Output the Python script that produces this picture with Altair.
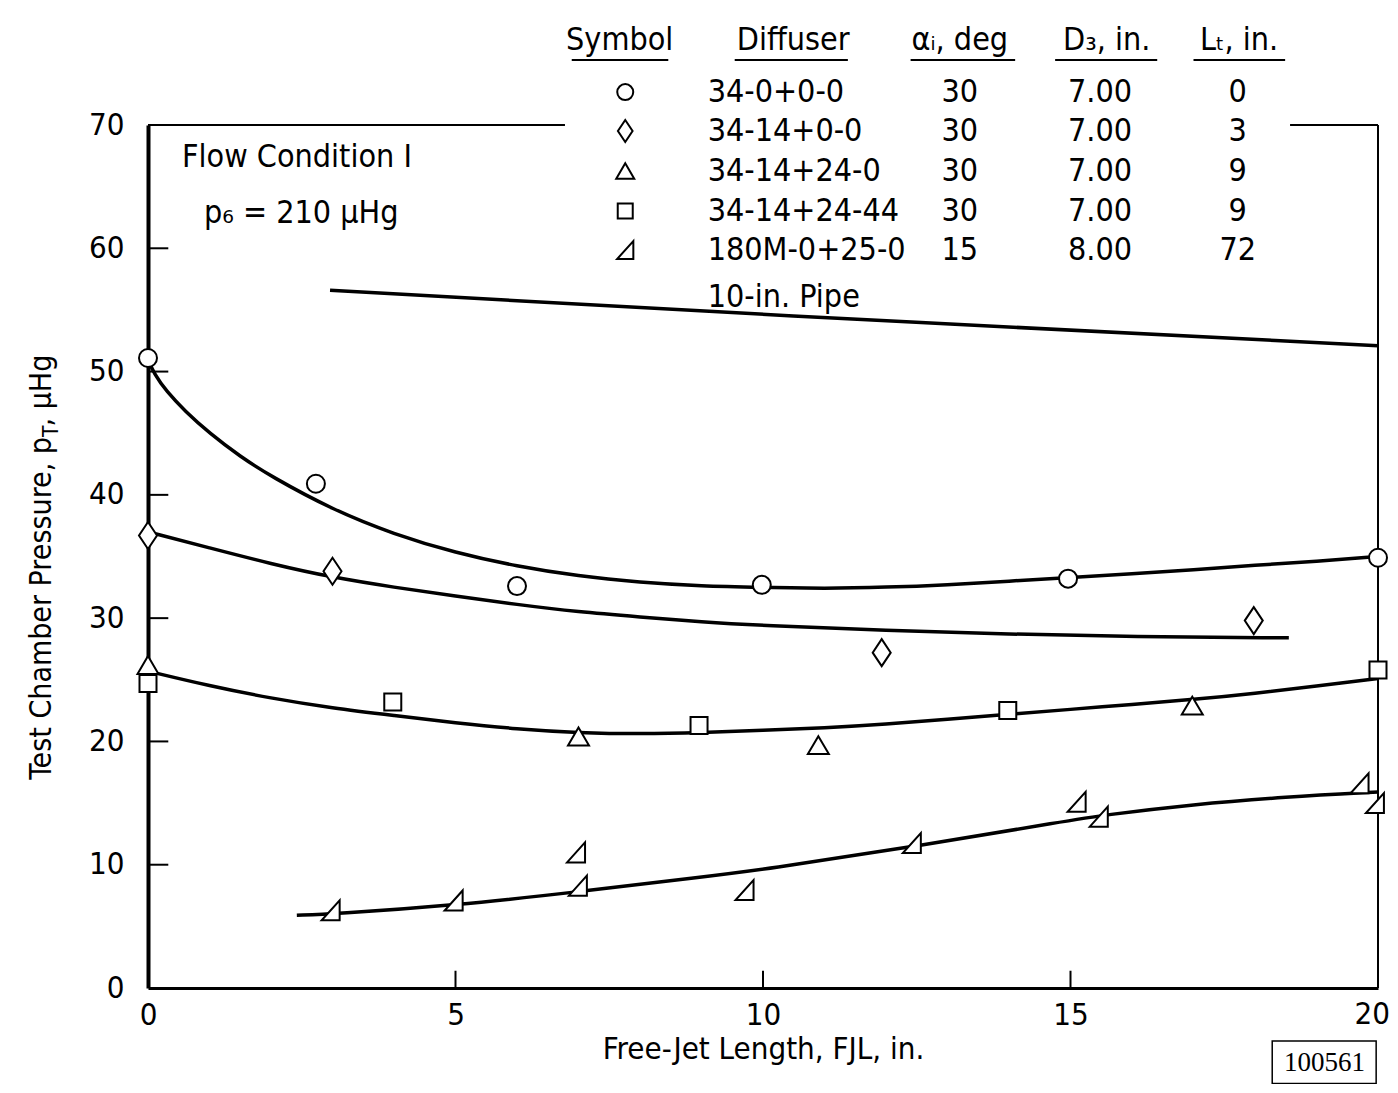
import altair as alt
import pandas as pd

# ---------------- data ----------------
# measured points (Free-jet length in., test chamber pressure uHg)
circle_x = [0.0, 2.73, 6.0, 9.98, 14.96, 20.0]
circle_y = [51.1, 40.9, 32.6, 32.7, 33.2, 34.9]
diamond_x = [0.0, 3.0, 11.93, 17.98]
diamond_y = [36.7, 33.8, 27.2, 29.8]
triangle_x = [0.0, 7.0, 10.9, 16.98]
triangle_y = [26.2, 20.4, 19.7, 22.9]
square_x = [0.0, 3.98, 8.96, 13.98, 20.0]
square_y = [24.7, 23.2, 21.3, 22.5, 25.8]
half_x = [2.97, 4.97, 6.96, 6.99, 9.7, 12.42, 15.1, 15.46, 19.7, 19.95]
half_y = [6.3, 7.1, 11.0, 8.3, 7.95, 11.76, 15.1, 13.9, 16.6, 15.0]

# faired curves
curve_circle_x = [0, 0.1, 0.3, 0.6, 1, 1.5, 2, 3, 4, 5, 6, 7, 8, 9, 10, 11, 12, 13, 14, 15, 16, 17, 18, 19, 20]
curve_circle_y = [51.0, 49.8, 48.4, 46.8, 45.0, 43.1, 41.5, 38.8, 36.8, 35.3, 34.2, 33.4, 32.9, 32.6, 32.5,
                  32.4, 32.5, 32.7, 33.0, 33.3, 33.6, 33.9, 34.3, 34.6, 35.0]
curve_diamond_x = [0, 1, 2, 3, 4, 5, 6, 7, 8, 9, 10, 12, 14, 16, 18.55]
curve_diamond_y = [37.0, 35.7, 34.4, 33.3, 32.5, 31.8, 31.1, 30.5, 30.1, 29.7, 29.4, 29.0, 28.7, 28.5, 28.4]
curve_tri_x = [0, 1, 2, 3, 4, 5, 6, 7, 8, 9, 10, 11, 12, 13, 14, 15, 16, 17, 18, 19, 20]
curve_tri_y = [25.7, 24.5, 23.5, 22.7, 22.1, 21.5, 21.0, 20.7, 20.6, 20.7, 20.9, 21.1, 21.4, 21.8, 22.2,
               22.6, 23.0, 23.4, 23.9, 24.5, 25.1]
curve_half_x = [2.42, 3, 5, 7, 9, 10, 12.5, 15, 15.5, 17, 18.5, 20]
curve_half_y = [5.9, 6.0, 6.7, 7.8, 9.0, 9.6, 11.5, 13.6, 14.0, 14.9, 15.5, 15.9]
curve_pipe_x = [2.96, 10, 20]
curve_pipe_y = [56.6, 54.6, 52.1]

# legend table
legend_headers = ["Symbol", "Diffuser", "\u03b1\u1d62, deg", "D\u2083, in.", "L\u209c, in."]
legend_diffuser = ["34-0+0-0", "34-14+0-0", "34-14+24-0", "34-14+24-44", "180M-0+25-0"]
legend_alpha = ["30", "30", "30", "30", "15"]
legend_d3 = ["7.00", "7.00", "7.00", "7.00", "8.00"]
legend_lt = ["0", "3", "9", "9", "72"]
pipe_label = "10-in. Pipe"

x_ticks = [0, 5, 10, 15, 20]
y_ticks = [0, 10, 20, 30, 40, 50, 60, 70]

# ---------------- layout (in data units) ----------------
row_y = [72.67, 69.51, 66.27, 63.02, 59.86]
pipe_label_y = 56.05
header_y = 76.89
header_x = [7.67, 10.49, 13.2, 15.59, 17.74]
underline_x = [6.89, 9.54, 12.4, 14.75, 17.0]
underline_x2 = [8.46, 11.38, 14.1, 16.41, 18.49]
underline_y = 75.27
sym_x = 7.76
diff_x = 9.1
alpha_x = 13.2
d3_x = 15.48
lt_x = 17.72

FONT = "'Liberation Sans Narrow', 'DejaVu Sans Condensed', 'Arial Narrow', sans-serif"
FS = 32
LFS = 31

XS = alt.Scale(domain=[0, 20], nice=False, zero=False)
YS = alt.Scale(domain=[0, 70], nice=False, zero=False)

# last x label ("20") is drawn as a text mark so it is not cut at the page edge
XAXIS = alt.Axis(values=x_ticks[:-1], format="d", ticks=False, grid=False, domainColor="black",
                 domainWidth=3, labelFont=FONT, labelFontSize=LFS, labelColor="black",
                 labelPadding=12, labelFlush=False, titleFont=FONT, titleFontSize=LFS,
                 titleFontWeight="normal", titleColor="black", titlePadding=4)
YAXIS = alt.Axis(values=y_ticks, format="d", ticks=False, grid=False, domainColor="black",
                 domainWidth=4, labelFont=FONT, labelFontSize=LFS, labelColor="black",
                 labelPadding=24, labelFlush=False)


def X(field="x"):
    return alt.X(f"{field}:Q", scale=XS, axis=XAXIS, title="Free-Jet Length, FJL, in.")


def Y(field="y"):
    return alt.Y(f"{field}:Q", scale=YS, axis=YAXIS, title="")


def points(xs, ys, shape, size, sw=2.0):
    df = pd.DataFrame({"x": xs, "y": ys})
    return alt.Chart(df).mark_point(shape=shape, size=size, filled=True, fill="white",
                                    stroke="black", strokeWidth=sw, opacity=1).encode(x=X(), y=Y())


def texts(xs, ys, labels, size=FS, align="center", font=FONT, angle=0, baseline="middle", dx=0, dy=0):
    df = pd.DataFrame({"x": xs, "y": ys, "t": labels})
    kw = dict(font=font, fontSize=size, align=align, baseline=baseline, color="black")
    if angle:
        kw["angle"] = angle
    if dx:
        kw["dx"] = dx
    if dy:
        kw["dy"] = dy
    return alt.Chart(df).mark_text(**kw).encode(x=X(), y=Y(), text="t:N")


def rules(xs, x2s, ys, y2s, sw=2.0):
    df = pd.DataFrame({"x": xs, "x2": x2s, "y": ys, "y2": y2s})
    return alt.Chart(df).mark_rule(color="black", strokeWidth=sw).encode(
        x=X(), x2="x2:Q", y=Y(), y2="y2:Q")


SHAPE_DIAMOND = "M0,-1L0.667,0L0,1L-0.667,0Z"
SHAPE_TRI = "M0,-0.85L1,0.85L-1,0.85Z"
SHAPE_HALF = "M0.9,-1L0.9,1L-0.9,1Z"

# curves
curves = []
for name, cx, cy in [("circle", curve_circle_x, curve_circle_y),
                     ("diamond", curve_diamond_x, curve_diamond_y),
                     ("tri", curve_tri_x, curve_tri_y),
                     ("half", curve_half_x, curve_half_y),
                     ("pipe", curve_pipe_x, curve_pipe_y)]:
    for a, b in zip(cx, cy):
        curves.append({"curve": name, "x": a, "y": b})
curve_df = pd.DataFrame(curves)
lines = alt.Chart(curve_df).mark_line(interpolate="basis", color="black", strokeWidth=3.5).encode(
    x=X(), y=Y(), detail="curve:N")

# frame pieces
frame = rules([20, 0, 18.57], [20, 6.78, 20], [0, 70, 70], [70, 70, 70], sw=2.0)
ytk = rules([0] * 6, [0.33] * 6, y_ticks[1:-1], y_ticks[1:-1], sw=2.0)
xtk = rules(x_ticks[1:-1], x_ticks[1:-1], [0] * 3, [1.4] * 3, sw=2.0)
last_xlabel = texts([x_ticks[-1]], [0], [str(x_ticks[-1])], size=LFS, align="right",
                    baseline="top", dx=12, dy=12)

# data markers
marks = [
    points(circle_x, circle_y, "circle", 324),
    points(diamond_x, diamond_y, SHAPE_DIAMOND, 729),
    points(triangle_x, triangle_y, SHAPE_TRI, 441),
    points(square_x, square_y, "square", 289),
    points(half_x, half_y, SHAPE_HALF, 400),
]

# legend
leg_syms = [
    points([sym_x], [row_y[0]], "circle", 256),
    points([sym_x], [row_y[1]], SHAPE_DIAMOND, 484),
    points([sym_x], [row_y[2]], SHAPE_TRI, 324),
    points([sym_x], [row_y[3]], "square", 225),
    points([sym_x], [row_y[4]], SHAPE_HALF, 324),
]
leg_text = [
    texts(header_x, [header_y] * 5, legend_headers),
    rules(underline_x, underline_x2, [underline_y] * 5, [underline_y] * 5, sw=2.0),
    texts([diff_x] * 5, row_y, legend_diffuser, align="left"),
    texts([diff_x], [pipe_label_y], [pipe_label], align="left"),
    texts([alpha_x] * 5, row_y, legend_alpha),
    texts([d3_x] * 5, row_y, legend_d3),
    texts([lt_x] * 5, row_y, legend_lt),
]

# annotations
flow = [
    texts([0.553], [67.4], ["Flow Condition I"], align="left"),
    texts([0.91], [62.86], ["p\u2086 = 210 \u03bcHg"], align="left"),
]

# y-axis title with subscript, built from pieces
ytitle = [
    texts([-1.58], [44.69], ["Test Chamber Pressure, p"], size=30, align="right", angle=270,
          baseline="alphabetic"),
    texts([-1.46], [44.69], ["T"], size=21, align="left", angle=270, baseline="alphabetic"),
    texts([-1.58], [45.55], [", \u03bcHg"], size=30, align="left", angle=270, baseline="alphabetic"),
]

# number box
box_df = pd.DataFrame({"x": [18.28], "x2": [19.97], "y": [-4.3], "y2": [-7.75]})
box = alt.Chart(box_df).mark_rect(fill="white", stroke="black", strokeWidth=1.5).encode(
    x=X(), x2="x2:Q", y=Y(), y2="y2:Q")
box_text = texts([19.13], [-6.1], ["100561"], size=27, font="'Liberation Serif', 'DejaVu Serif', serif")

chart = alt.layer(
    lines, frame, ytk, xtk, last_xlabel, *marks, *leg_syms, *leg_text, *flow, *ytitle, box, box_text
).properties(
    width=1230, height=863,
    autosize=alt.AutoSizeParams(type="none"),
    padding={"left": 140, "top": 117, "right": 12, "bottom": 96},
    background="white",
).configure_view(strokeWidth=0)

chart.save("out.html", embed_options={"renderer": "svg", "actions": False})
